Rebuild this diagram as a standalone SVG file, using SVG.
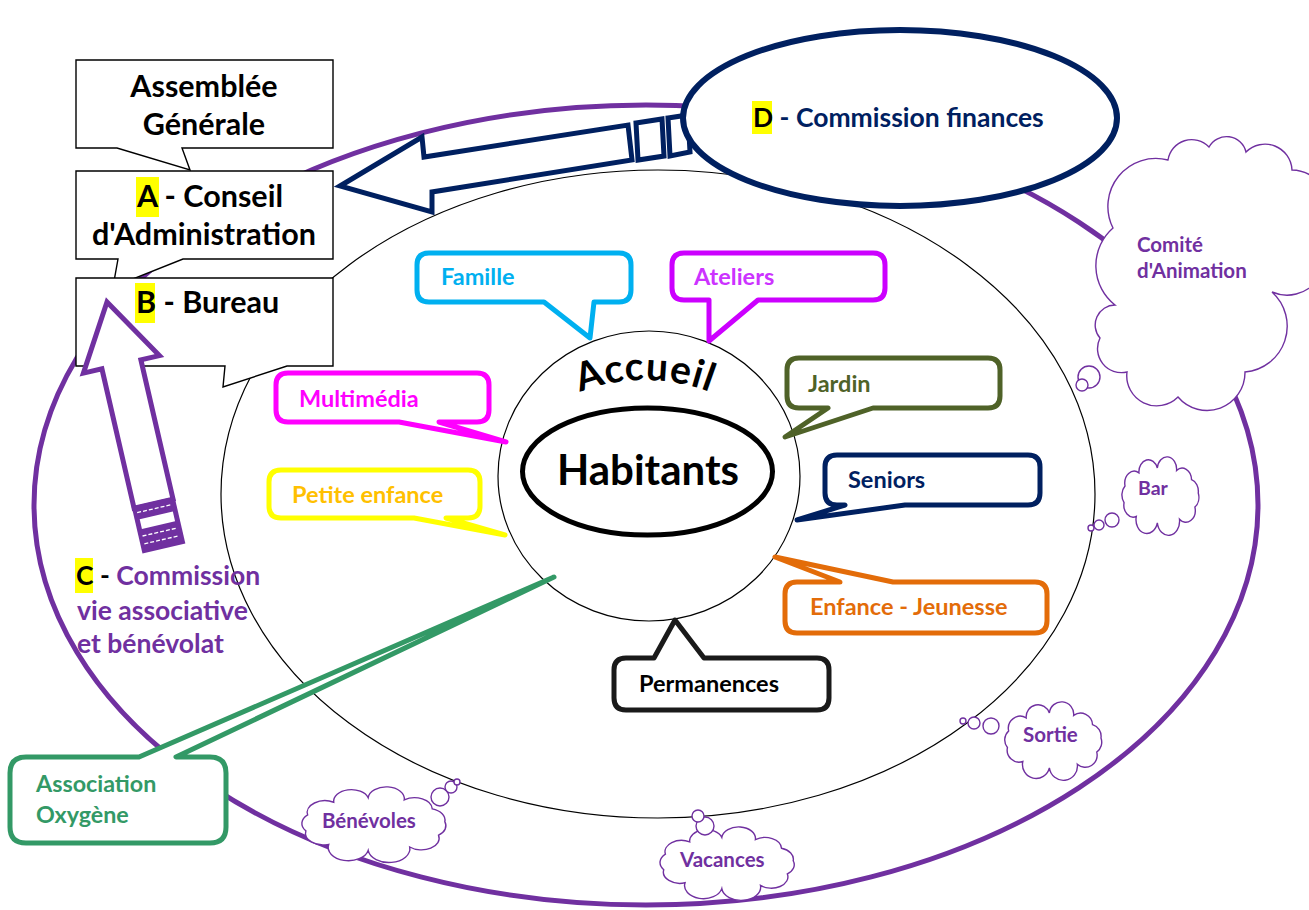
<svg xmlns="http://www.w3.org/2000/svg" xmlns:xlink="http://www.w3.org/1999/xlink" width="1309" height="910" viewBox="0 0 1309 910">
<style>
.t{font-family:Lato,"Liberation Sans",sans-serif;font-weight:700}
.box{fill:#fff;stroke:#000;stroke-width:1.4}
.cl{fill:#fff;stroke-width:5;stroke-linejoin:round}
.cloud{fill:#fff;stroke:#7030a0;stroke-width:1.4}
.hl{fill:#ffff00}
.pt{fill:#7030a0}
.dash{stroke:#fff;stroke-width:1.3;stroke-dasharray:4 2;fill:none}
</style>
<defs>
<path id="cloudShape" vector-effect="non-scaling-stroke" d="M8.6,21.4 A11,11 0 0 1 24.8,9.5 A11,11 0 0 1 46.2,5.1 A11,11 0 0 1 68.6,7.3 A11,11 0 0 1 86,15.7 A11,11 0 0 1 93.8,27.8 A11,11 0 0 1 89.9,40.6 A11,11 0 0 1 72,51.7 A11,11 0 0 1 46.2,54.9 A11,11 0 0 1 21.7,49.2 A11,11 0 0 1 7.5,36.5 A11,11 0 0 1 8.6,21.4 Z"/>
<path id="arcAccueil" d="M495,460.5 A180,180 0 0 1 795,460.5"/>
</defs>

<g id="rings">
<ellipse cx="646" cy="505" rx="612" ry="400" fill="none" stroke="#7030a0" stroke-width="5"/>
<ellipse cx="658" cy="494" rx="437" ry="324" fill="none" stroke="#000" stroke-width="1.2"/>
</g>

<g id="connectors">
<path d="M340,186 L422,137 L424,157 L628,125 L632,160 L432,192 L432,212 Z" fill="#fff" stroke="#002060" stroke-width="5" stroke-linejoin="miter"/>
<path d="M636,123 L662,119 L664,156 L638,160 Z" fill="#fff" stroke="#002060" stroke-width="5"/>
<path d="M668,118 L688,115 L690,152 L670,156 Z" fill="#fff" stroke="#002060" stroke-width="5"/>
</g>

<g id="nodeD">
<ellipse cx="900" cy="118" rx="217" ry="88" fill="#fff" stroke="#002060" stroke-width="6"/>
<rect class="hl" x="752" y="101" width="20" height="33"/>
<text class="t" x="753" y="127" font-size="26.5"><tspan fill="#000">D</tspan><tspan fill="#002060"> - Commission finances</tspan></text>
</g>

<g id="nodeAG">
<path class="box" d="M76,60 H333 V148 H182 L190,170 L117,148 H76 Z"/>
<text class="t" x="204" y="97" font-size="30.5" text-anchor="middle" fill="#000">Assemblée</text>
<text class="t" x="204" y="135" font-size="30.5" text-anchor="middle" fill="#000">Générale</text>
</g>

<g id="nodeA">
<path class="box" d="M76,171 H333 V259 H183 L113,287 L118,259 H76 Z"/>
<rect class="hl" x="136" y="177" width="23" height="40"/>
<text class="t" x="137" y="207" font-size="30.5" fill="#000">A - Conseil</text>
<text class="t" x="204" y="245" font-size="30.5" text-anchor="middle" fill="#000">d'Administration</text>
</g>

<g id="nodeB">
<path class="box" d="M76,278 H333 V366 H287 L223,387 L225,366 H76 Z"/>
<rect class="hl" x="135" y="283" width="20" height="40"/>
<text class="t" x="136" y="313" font-size="30.5" fill="#000">B - Bureau</text>
</g>

<g id="arrowC" transform="translate(107,302) rotate(-13)" stroke-linejoin="miter">
<path d="M0,0 L39,64 L20,64 L20,207 L-20,207 L-20,64 L-39,64 Z" fill="#fff" stroke="#7030a0" stroke-width="5"/>
<rect x="-22" y="205" width="44" height="48" fill="#7030a0"/>
<rect x="-17" y="219" width="34" height="10" fill="#fff"/>
<line class="dash" x1="-18" y1="212" x2="18" y2="212"/>
<line class="dash" x1="-18" y1="236" x2="18" y2="236"/>
<line class="dash" x1="-18" y1="244" x2="18" y2="244"/>
</g>

<g id="nodeC">
<rect class="hl" x="75" y="558" width="18" height="35"/>
<text class="t" x="76" y="585" font-size="26.5"><tspan fill="#000">C</tspan><tspan fill="#000"> -</tspan><tspan fill="#7030a0"> Commission</tspan></text>
<text class="t pt" x="77" y="620" font-size="26.5">vie associative</text>
<text class="t pt" x="77" y="653" font-size="26.5">et bénévolat</text>
</g>

<g id="nodeComite">
<path class="cloud" d="M1113,228 A48,48 0 0 1 1168,160 A24,24 0 0 1 1209,147 A20,20 0 0 1 1246,152 A27,27 0 0 1 1292,170 A38,38 0 0 1 1318,235 A38,38 0 0 1 1272,292 A46,46 0 0 1 1245,372 A38,38 0 0 1 1178,397 A30,30 0 0 1 1127,372 A24,24 0 0 1 1100,338 A20,20 0 0 1 1115,305 A50,50 0 0 1 1113,228 Z"/>
<circle class="cloud" cx="1089" cy="377" r="11"/>
<circle class="cloud" cx="1082" cy="385" r="6"/>
<text class="t pt" x="1137" y="252" font-size="20.5">Comité</text>
<text class="t pt" x="1137" y="278" font-size="20.5">d'Animation</text>
</g>

<g id="nodeCentre">
<ellipse cx="649" cy="476" rx="151" ry="145" fill="#fff" stroke="#000" stroke-width="1.2"/>
<text class="t" font-size="39" fill="#000" letter-spacing="1"><textPath href="#arcAccueil" startOffset="50%" text-anchor="middle">Accueil</textPath></text>
<ellipse cx="647.5" cy="471.5" rx="125" ry="63.5" fill="#fff" stroke="#000" stroke-width="5"/>
<text class="t" x="648" y="485" font-size="42" text-anchor="middle" fill="#000">Habitants</text>
</g>

<g id="nodeFamille">
<path class="cl" stroke="#00b0f0" d="M429,253 H619 Q631,253 631,265 V290 Q631,302 619,302 H594 L590,338 L544,302 H429 Q417,302 417,290 V265 Q417,253 429,253 Z"/>
<text class="t" x="441" y="285" font-size="23.5" fill="#00b0f0">Famille</text>
</g>

<g id="nodeAteliers">
<path class="cl" stroke="#cc00ff" d="M684,253 H873 Q885,253 885,265 V288 Q885,300 873,300 H758 L709,341 L709,300 H684 Q672,300 672,288 V265 Q672,253 684,253 Z"/>
<text class="t" x="694" y="285" font-size="23.5" fill="#cc33ff">Ateliers</text>
</g>

<g id="nodeMultimedia">
<path class="cl" stroke="#ff00ff" d="M288,373 H477 Q489,373 489,385 V410 Q489,422 477,422 H439 L506,442 L399,422 H288 Q276,422 276,410 V385 Q276,373 288,373 Z"/>
<text class="t" x="299" y="407" font-size="23.5" fill="#ff00ff">Multimédia</text>
</g>

<g id="nodePetite">
<path class="cl" stroke="#ffff00" d="M281,470 H468 Q480,470 480,482 V506 Q480,518 468,518 H446 L505,535 L414,518 H281 Q269,518 269,506 V482 Q269,470 281,470 Z"/>
<text class="t" x="292" y="503" font-size="23.5" fill="#ffc000">Petite enfance</text>
</g>

<g id="nodeJardin">
<path class="cl" stroke="#4f6228" d="M799,358 H988 Q1000,358 1000,370 V396 Q1000,408 988,408 H873 L785,437 L828,408 H799 Q787,408 787,396 V370 Q787,358 799,358 Z"/>
<text class="t" x="808" y="392" font-size="23.5" fill="#4f6228">Jardin</text>
</g>

<g id="nodeSeniors">
<path class="cl" stroke="#002060" d="M837,455 H1028 Q1040,455 1040,467 V493 Q1040,505 1028,505 H905 L797,520 L845,505 H837 Q825,505 825,493 V467 Q825,455 837,455 Z"/>
<text class="t" x="848" y="488" font-size="23.5" fill="#002060">Seniors</text>
</g>

<g id="nodeEnfance">
<path class="cl" stroke="#e36c09" d="M797,582 H840 L775,557 L893,582 H1035 Q1047,582 1047,594 V621 Q1047,633 1035,633 H797 Q785,633 785,621 V594 Q785,582 797,582 Z"/>
<text class="t" x="810" y="615" font-size="23.5" fill="#e36c09">Enfance - Jeunesse</text>
</g>

<g id="nodePermanences">
<path class="cl" stroke="#1a1a1a" d="M626,658 H654 L675,620 L704,658 H817 Q829,658 829,670 V698 Q829,710 817,710 H626 Q614,710 614,698 V670 Q614,658 626,658 Z"/>
<text class="t" x="639" y="692" font-size="23.5" fill="#000">Permanences</text>
</g>

<g id="nodeBar">
<use href="#cloudShape" class="cloud" transform="translate(1117.6,462.4) scale(0.86,1.1)"/>
<circle class="cloud" cx="1112" cy="520" r="7"/>
<circle class="cloud" cx="1099" cy="525" r="5"/>
<circle class="cloud" cx="1091" cy="528" r="3"/>
<text class="t pt" x="1138" y="495" font-size="19.5">Bar</text>
</g>

<g id="nodeSortie">
<use href="#cloudShape" class="cloud" transform="translate(999.3,707.4) scale(1.084,1.1)"/>
<circle class="cloud" cx="991" cy="726" r="8"/>
<circle class="cloud" cx="974" cy="723" r="6"/>
<circle class="cloud" cx="963" cy="721" r="3"/>
<text class="t pt" x="1023" y="742" font-size="20.5">Sortie</text>
</g>

<g id="nodeVacances">
<use href="#cloudShape" class="cloud" transform="translate(652.5,832.1) scale(1.5,1.03)"/>
<circle class="cloud" cx="705" cy="826" r="9"/>
<circle class="cloud" cx="698" cy="816" r="6"/>
<text class="t pt" x="680" y="867" font-size="20.5">Vacances</text>
</g>

<g id="nodeBenevoles">
<use href="#cloudShape" class="cloud" transform="translate(293.8,792.2) scale(1.61,1.06)"/>
<circle class="cloud" cx="440" cy="797" r="9"/>
<circle class="cloud" cx="451" cy="787" r="6"/>
<circle class="cloud" cx="457" cy="782" r="3"/>
<text class="t pt" x="322" y="828" font-size="20.5">Bénévoles</text>
</g>

<g id="nodeAssociation">
<path class="cl" stroke="#339966" stroke-width="6" d="M26,757 H139 L554,577 L176,757 H210 Q226,757 226,773 V827 Q226,843 210,843 H26 Q10,843 10,827 V773 Q10,757 26,757 Z"/>
<text class="t" x="36" y="792" font-size="23.3" fill="#339966">Association</text>
<text class="t" x="36" y="823" font-size="23.3" fill="#339966">Oxygène</text>
</g>
</svg>
